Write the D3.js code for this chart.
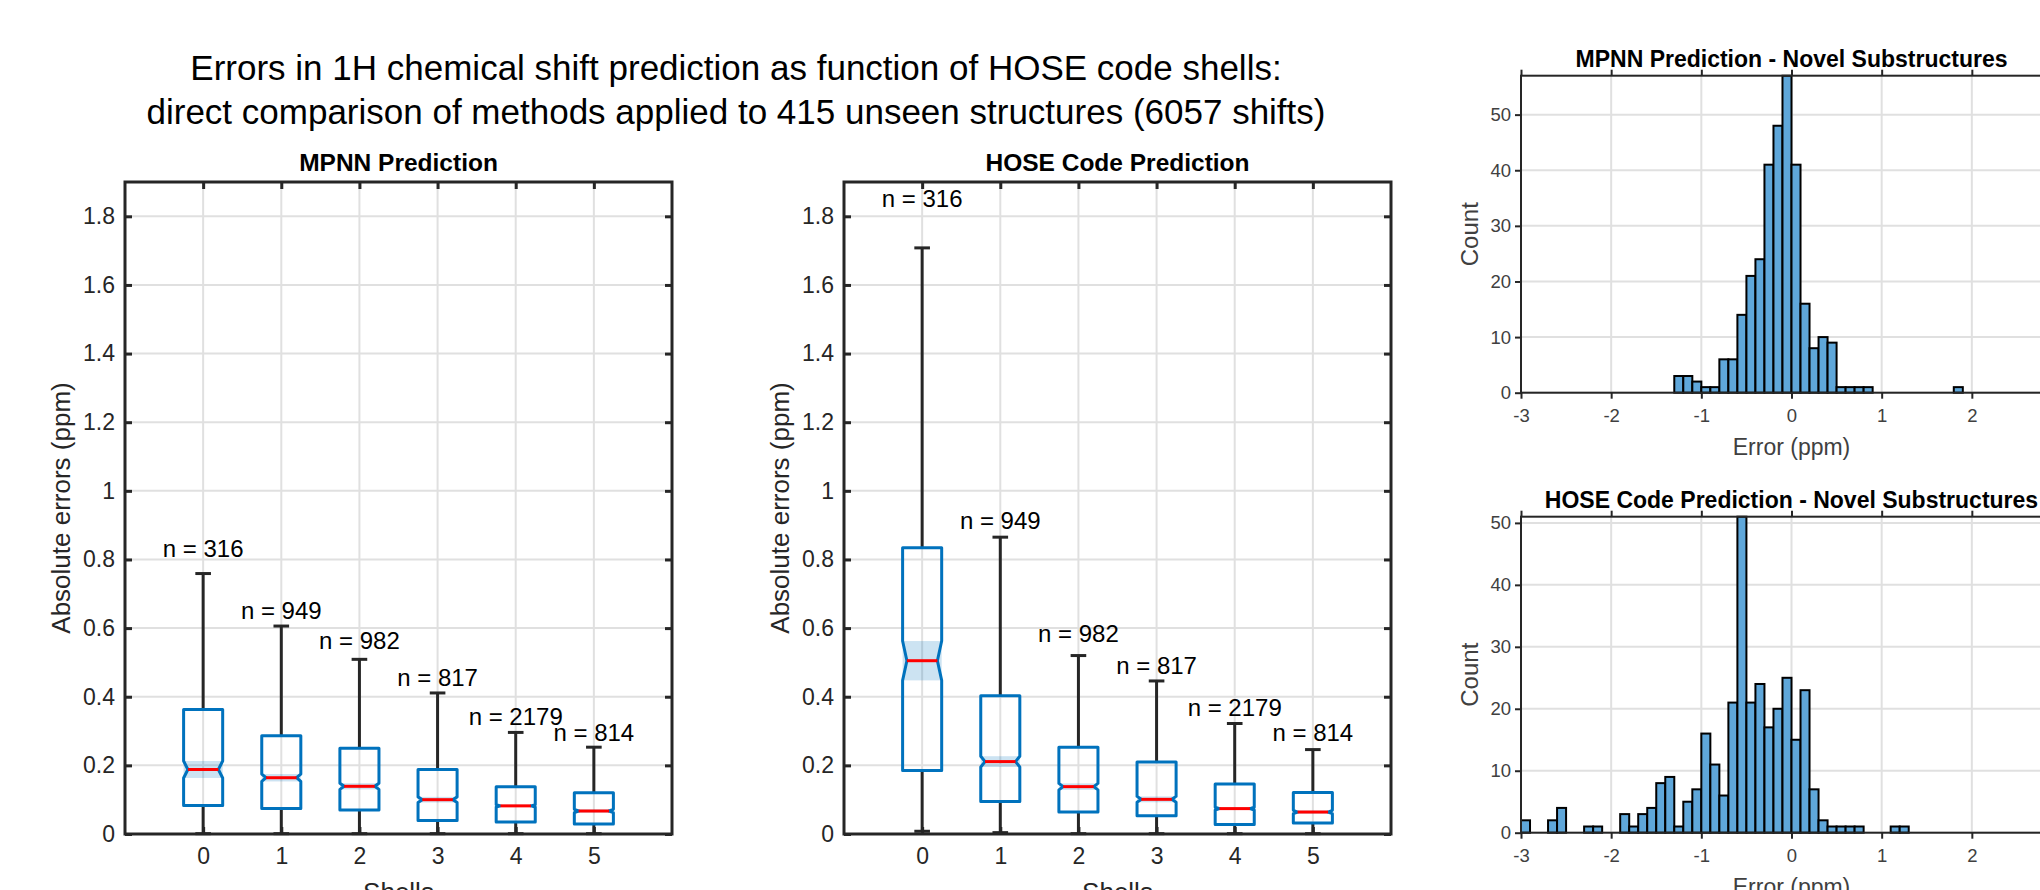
<!DOCTYPE html>
<html lang="en">
<head>
<meta charset="UTF-8">
<title>1H shift errors vs HOSE shells</title>
<script src="https://d3js.org/d3.v7.min.js"></script>
<style>
  body { margin: 0; background: #fff; }
  svg { display: block; font-family: "Liberation Sans", Arial, Helvetica, sans-serif; }
</style>
</head>
<body>
<div id="chart"></div>
<script>
// ---- data ----
const shells = [0, 1, 2, 3, 4, 5];
const shellCounts = [316, 949, 982, 817, 2179, 814];

// MPNN boxplot stats (ppm)
const mpnnQ1 = [0.083, 0.074, 0.070, 0.039, 0.035, 0.029];
const mpnnMedian = [0.188, 0.164, 0.139, 0.100, 0.082, 0.067];
const mpnnQ3 = [0.363, 0.286, 0.250, 0.188, 0.138, 0.120];
const mpnnWhiskerLow = [0.001, 0.001, 0.001, 0.001, 0.001, 0.001];
const mpnnWhiskerHigh = [0.759, 0.606, 0.509, 0.411, 0.296, 0.253];
const mpnnLabelY = [0.831, 0.650, 0.564, 0.456, 0.341, 0.296];

// HOSE code boxplot stats (ppm)
const hoseQ1 = [0.185, 0.095, 0.064, 0.053, 0.028, 0.032];
const hoseMedian = [0.505, 0.211, 0.138, 0.101, 0.074, 0.064];
const hoseQ3 = [0.834, 0.403, 0.253, 0.210, 0.146, 0.121];
const hoseWhiskerLow = [0.008, 0.004, 0.001, 0.001, 0.001, 0.001];
const hoseWhiskerHigh = [1.708, 0.865, 0.520, 0.446, 0.322, 0.246];
const hoseLabelY = [1.853, 0.912, 0.584, 0.492, 0.368, 0.296];

const boxYTicks = [0, 0.2, 0.4, 0.6, 0.8, 1, 1.2, 1.4, 1.6, 1.8];
const boxYTickLabels = ["0", "0.2", "0.4", "0.6", "0.8", "1", "1.2", "1.4", "1.6", "1.8"];

// histograms of errors for novel substructures, bin width 0.1 ppm
const binWidth = 0.1;
const mpnnHistStart = -1.3;
const mpnnHistCounts = [3, 3, 2, 1, 1, 6, 6, 14, 21, 24, 41, 48, 57, 41, 16, 8, 10, 9, 1, 1, 1, 1,
                        0, 0, 0, 0, 0, 0, 0, 0, 0, 1];
const hoseHistStart = -3.0;
const hoseHistCounts = [2, 0, 0, 2, 4, 0, 0, 1, 1, 0, 0, 3, 1, 3, 4, 8, 9, 1, 5, 7, 16, 11, 6, 21,
                        51, 21, 24, 17, 20, 25, 15, 23, 7, 2, 1, 1, 1, 1, 0, 0, 0, 1, 1];
const histXTicks = [-3, -2, -1, 0, 1, 2, 3];
const histXTickLabels = ["-3", "-2", "-1", "0", "1", "2", ""]; // 3 falls off the right edge
const histYTicks = [0, 10, 20, 30, 40, 50];

// ---- drawing ----
const width = 2040, height = 890;
const axisColor = "#262626";
const gridColor = "#e0e0e0";
const boxBlue = "#0072BD";

const svg = d3.select("#chart").append("svg")
  .attr("width", width)
  .attr("height", height);

// main title
const title = svg.append("text")
  .attr("x", 736).attr("text-anchor", "middle")
  .attr("font-size", 35).attr("fill", "#000");
title.append("tspan").attr("x", 736).attr("y", 80)
  .text("Errors in 1H chemical shift prediction as function of HOSE code shells:");
title.append("tspan").attr("x", 736).attr("y", 124)
  .text("direct comparison of methods applied to 415 unseen structures (6057 shifts)");

function boxPanel(left, right, name, q1, med, q3, wLo, wHi, labelY) {
  const top = 182, bottom = 834;
  const x = d3.scaleLinear().domain([-1, 6]).range([left, right]);
  const y = d3.scaleLinear().domain([0, 1.9]).range([bottom, top]);
  const g = svg.append("g");

  // grid
  g.selectAll(".gy").data(boxYTicks).join("line")
    .attr("x1", left).attr("x2", right)
    .attr("y1", d => y(d)).attr("y2", d => y(d))
    .attr("stroke", gridColor).attr("stroke-width", 2);
  g.selectAll(".gx").data(shells).join("line")
    .attr("x1", d => x(d)).attr("x2", d => x(d))
    .attr("y1", top).attr("y2", bottom)
    .attr("stroke", gridColor).attr("stroke-width", 2);

  const hw = (x(0.25) - x(0));
  const capHw = (x(0.1) - x(0));
  const indent = 0.11 * 2 * hw;

  const stats = shells.map((s, i) => {
    const iqr = q3[i] - q1[i];
    const half = 1.57 * iqr / Math.sqrt(shellCounts[i]);
    return { s, n: shellCounts[i], q1: q1[i], med: med[i], q3: q3[i],
             lo: wLo[i], hi: wHi[i], nlo: med[i] - half, nhi: med[i] + half, ly: labelY[i] };
  });

  const box = g.selectAll(".box").data(stats).join("g");

  // notch confidence band
  box.append("rect")
    .attr("x", d => x(d.s) - hw).attr("width", 2 * hw)
    .attr("y", d => y(d.nhi)).attr("height", d => y(d.nlo) - y(d.nhi))
    .attr("fill", boxBlue).attr("fill-opacity", 0.2);

  // whiskers
  box.append("line")
    .attr("x1", d => x(d.s)).attr("x2", d => x(d.s))
    .attr("y1", d => y(d.q3)).attr("y2", d => y(d.hi))
    .attr("stroke", axisColor).attr("stroke-width", 3);
  box.append("line")
    .attr("x1", d => x(d.s)).attr("x2", d => x(d.s))
    .attr("y1", d => y(d.q1)).attr("y2", d => y(d.lo))
    .attr("stroke", axisColor).attr("stroke-width", 3);
  box.append("line")
    .attr("x1", d => x(d.s) - capHw).attr("x2", d => x(d.s) + capHw)
    .attr("y1", d => y(d.hi)).attr("y2", d => y(d.hi))
    .attr("stroke", axisColor).attr("stroke-width", 3);
  box.append("line")
    .attr("x1", d => x(d.s) - capHw).attr("x2", d => x(d.s) + capHw)
    .attr("y1", d => y(d.lo)).attr("y2", d => y(d.lo))
    .attr("stroke", axisColor).attr("stroke-width", 3);

  // notched box outline
  box.append("path")
    .attr("d", d => {
      const cx = x(d.s);
      const p = d3.path();
      p.moveTo(cx - hw, y(d.q1));
      p.lineTo(cx - hw, y(d.nlo));
      p.lineTo(cx - hw + indent, y(d.med));
      p.lineTo(cx - hw, y(d.nhi));
      p.lineTo(cx - hw, y(d.q3));
      p.lineTo(cx + hw, y(d.q3));
      p.lineTo(cx + hw, y(d.nhi));
      p.lineTo(cx + hw - indent, y(d.med));
      p.lineTo(cx + hw, y(d.nlo));
      p.lineTo(cx + hw, y(d.q1));
      p.closePath();
      return p.toString();
    })
    .attr("fill", "none").attr("stroke", boxBlue).attr("stroke-width", 3)
    .attr("stroke-linejoin", "round");

  // median
  box.append("line")
    .attr("x1", d => x(d.s) - hw + indent).attr("x2", d => x(d.s) + hw - indent)
    .attr("y1", d => y(d.med)).attr("y2", d => y(d.med))
    .attr("stroke", "#ff0000").attr("stroke-width", 3);

  // n labels
  box.append("text")
    .attr("x", d => x(d.s)).attr("y", d => y(d.ly))
    .attr("dy", "0.35em").attr("text-anchor", "middle")
    .attr("font-size", 24).attr("fill", "#000")
    .text(d => "n = " + d.n);

  // axes with inward ticks on all sides
  const tl = 7;
  const bottomAxis = d3.axisBottom(x).tickValues(shells).tickSize(-tl).tickPadding(14).tickFormat(d => String(d));
  const topAxis = d3.axisTop(x).tickValues(shells).tickSize(-tl).tickFormat("");
  const leftAxis = d3.axisLeft(y).tickValues(boxYTicks).tickSize(-tl).tickPadding(10)
    .tickFormat((d, i) => boxYTickLabels[i]);
  const rightAxis = d3.axisRight(y).tickValues(boxYTicks).tickSize(-tl).tickFormat("");

  [[bottomAxis, `translate(0,${bottom})`], [topAxis, `translate(0,${top})`],
   [leftAxis, `translate(${left},0)`], [rightAxis, `translate(${right},0)`]].forEach(([ax, tr]) => {
    const a = g.append("g").attr("transform", tr).call(ax);
    a.select(".domain").remove();
    a.selectAll(".tick line").attr("stroke", axisColor).attr("stroke-width", 3);
    a.selectAll(".tick text").attr("font-size", 23).attr("fill", axisColor)
      .attr("font-family", "Liberation Sans, Arial, sans-serif");
  });

  g.append("rect")
    .attr("x", left).attr("y", top)
    .attr("width", right - left).attr("height", bottom - top)
    .attr("fill", "none").attr("stroke", axisColor).attr("stroke-width", 3);

  // labels
  g.append("text")
    .attr("x", (left + right) / 2).attr("y", 171)
    .attr("text-anchor", "middle").attr("font-weight", "bold")
    .attr("font-size", 24.5).attr("fill", "#000")
    .text(name);
  g.append("text")
    .attr("transform", `translate(${left - 64},${(top + bottom) / 2}) rotate(-90)`)
    .attr("dy", "0.35em").attr("text-anchor", "middle")
    .attr("font-size", 26).attr("fill", axisColor)
    .text("Absolute errors (ppm)");
  g.append("text")
    .attr("x", (left + right) / 2).attr("y", 901)
    .attr("text-anchor", "middle")
    .attr("font-size", 26).attr("fill", axisColor)
    .text("Shells");
}

boxPanel(125, 672, "MPNN Prediction", mpnnQ1, mpnnMedian, mpnnQ3, mpnnWhiskerLow, mpnnWhiskerHigh, mpnnLabelY);
boxPanel(844, 1391, "HOSE Code Prediction", hoseQ1, hoseMedian, hoseQ3, hoseWhiskerLow, hoseWhiskerHigh, hoseLabelY);

function histPanel(top, bottom, yMax, name, start, counts) {
  const left = 1521, right = 2062;
  const x = d3.scaleLinear().domain([-3, 3]).range([left, right]);
  const y = d3.scaleLinear().domain([0, yMax]).range([bottom, top]);
  const g = svg.append("g");
  const histText = "#404040";

  g.selectAll(".gy").data(histYTicks).join("line")
    .attr("x1", left).attr("x2", right)
    .attr("y1", d => y(d)).attr("y2", d => y(d))
    .attr("stroke", gridColor).attr("stroke-width", 2);
  g.selectAll(".gx").data(histXTicks).join("line")
    .attr("x1", d => x(d)).attr("x2", d => x(d))
    .attr("y1", top).attr("y2", bottom)
    .attr("stroke", gridColor).attr("stroke-width", 2);

  const bins = counts.map((c, i) => ({ x0: start + i * binWidth, x1: start + (i + 1) * binWidth, c }))
    .filter(b => b.c > 0);
  g.selectAll(".bar").data(bins).join("rect")
    .attr("x", d => x(d.x0)).attr("width", d => x(d.x1) - x(d.x0))
    .attr("y", d => y(d.c)).attr("height", d => y(0) - y(d.c))
    .attr("fill", "#5fa7da").attr("stroke", "#000").attr("stroke-width", 2);

  const tl = 6;
  const bottomAxis = d3.axisBottom(x).tickValues(histXTicks).tickSize(tl).tickPadding(10)
    .tickFormat((d, i) => histXTickLabels[i]);
  const topAxis = d3.axisTop(x).tickValues(histXTicks).tickSize(tl).tickFormat("");
  const leftAxis = d3.axisLeft(y).tickValues(histYTicks).tickSize(tl).tickPadding(4).tickFormat(d => String(d));

  [[bottomAxis, `translate(0,${bottom})`], [topAxis, `translate(0,${top})`],
   [leftAxis, `translate(${left},0)`]].forEach(([ax, tr]) => {
    const a = g.append("g").attr("transform", tr).call(ax);
    a.select(".domain").remove();
    a.selectAll(".tick line").attr("stroke", axisColor).attr("stroke-width", 2);
    a.selectAll(".tick text").attr("font-size", 18.5).attr("fill", histText)
      .attr("font-family", "Liberation Sans, Arial, sans-serif");
  });

  g.append("rect")
    .attr("x", left).attr("y", top)
    .attr("width", right - left).attr("height", bottom - top)
    .attr("fill", "none").attr("stroke", axisColor).attr("stroke-width", 2);

  g.append("text")
    .attr("x", x(0)).attr("y", top - 9)
    .attr("text-anchor", "middle").attr("font-weight", "bold")
    .attr("font-size", 23).attr("fill", "#000")
    .text(name);
  g.append("text")
    .attr("transform", `translate(${left - 51},${(top + bottom) / 2}) rotate(-90)`)
    .attr("dy", "0.35em").attr("text-anchor", "middle")
    .attr("font-size", 24).attr("fill", histText)
    .text("Count");
  g.append("text")
    .attr("x", x(0)).attr("y", bottom + 62)
    .attr("text-anchor", "middle")
    .attr("font-size", 23).attr("fill", histText)
    .text("Error (ppm)");
}

histPanel(75.7, 392.7, 57, "MPNN Prediction - Novel Substructures", mpnnHistStart, mpnnHistCounts);
histPanel(516.7, 832.7, 51, "HOSE Code Prediction - Novel Substructures", hoseHistStart, hoseHistCounts);
</script>
</body>
</html>
